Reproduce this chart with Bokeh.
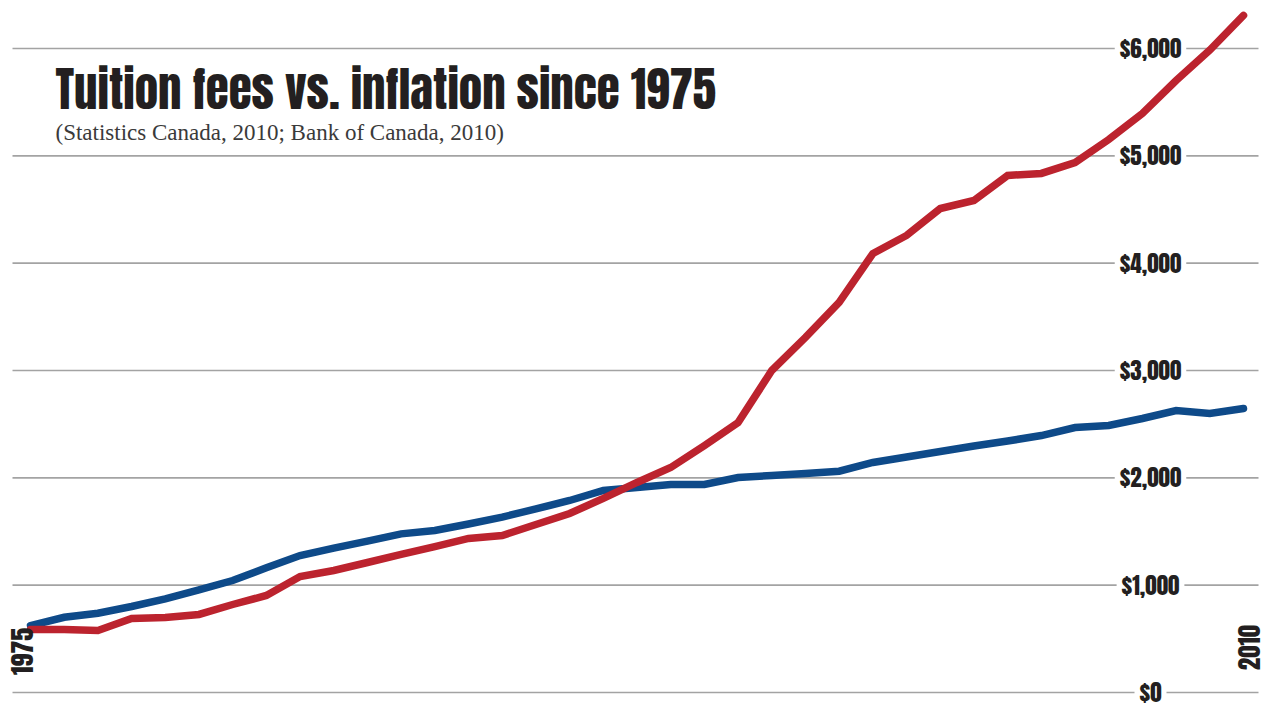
import math
from bokeh.plotting import figure
from bokeh.models import Label, Range1d
from bokeh.core.properties import value
from bokeh.embed import file_html
from bokeh.resources import INLINE

# ---- data ----
period_index = list(range(37))
tuition = [587, 587, 578, 690, 699, 727, 820, 904, 1081, 1137, 1211, 1286,
           1360, 1435, 1463, 1565, 1668, 1808, 1957, 2096, 2301, 2515, 3000,
           3308, 3634, 4090, 4258, 4509, 4584, 4817, 4836, 4938, 5152, 5395,
           5702, 5986, 6308]
inflation = [624, 701, 739, 801, 873, 957, 1043, 1162, 1276, 1345, 1410, 1478,
             1509, 1570, 1634, 1710, 1789, 1882, 1910, 1938, 1938, 2003, 2022,
             2040, 2062, 2143, 2194, 2245, 2297, 2343, 2394, 2469, 2488, 2553,
             2627, 2599, 2646]
y_ticks = [0, 1000, 2000, 3000, 4000, 5000, 6000]
y_tick_labels = ["$0", "$1,000", "$2,000", "$3,000", "$4,000", "$5,000", "$6,000"]
x_tick_labels = ["1975", "2010"]

W, H = 1262, 705
px_per_x = (1243 - 30) / 36.0
px_per_y = (692 - 48) / 6000.0

p = figure(width=W, height=H, output_backend="svg", toolbar_location=None,
           min_border=0)
p.x_range = Range1d(-30 / px_per_x, 36 + (W - 1243) / px_per_x)
p.y_range = Range1d(-(H - 692) / px_per_y, 692 / px_per_y)
p.axis.visible = False
p.grid.visible = False
p.outline_line_color = None
p.background_fill_color = "white"
p.border_fill_color = "white"

BOLD = "Anton"
INK = "#231f20"

x0 = (12 - 30) / px_per_x
x1 = (1258 - 30) / px_per_x
p.segment(x0=[x0] * len(y_ticks), x1=[x1] * len(y_ticks), y0=y_ticks, y1=y_ticks,
          line_color="#a3a3a3", line_width=1.6)

lab_x = (1150 - 30) / px_per_x
p.text(x=[lab_x] * len(y_ticks), y=y_ticks, text=y_tick_labels,
       text_font=value(BOLD), text_font_size="23px",
       text_color=INK, text_align="center", text_baseline="middle",
       background_fill_color="white", padding=(5, 0))

p.line(period_index, inflation, line_color="#0E4A89", line_width=7.5,
       line_join="miter", line_cap="round")
p.line(period_index, tuition, line_color="#BC232E", line_width=7.5,
       line_join="miter", line_cap="round")

p.add_layout(Label(x=21, y=H - 651, x_units="screen", y_units="screen",
                   text=x_tick_labels[0], angle=math.pi / 2, text_align="center",
                   text_baseline="middle", text_font=BOLD,
                   text_font_size="26px", text_color=INK))
p.add_layout(Label(x=1248, y=H - 647, x_units="screen", y_units="screen",
                   text=x_tick_labels[1], angle=math.pi / 2, text_align="center",
                   text_baseline="middle", text_font=BOLD,
                   text_font_size="25px", text_color=INK))

p.add_layout(Label(x=55, y=H - 88, x_units="screen", y_units="screen",
                   text="Tuition fees vs. inflation since 1975", text_font=BOLD,
                   text_font_size="47px", text_color=INK, text_baseline="alphabetic"))
p.add_layout(Label(x=55, y=H - 144, x_units="screen", y_units="screen",
                   text="(Statistics Canada, 2010; Bank of Canada, 2010)",
                   text_font="Liberation Serif", text_font_size="23px",
                   text_color="#3a3a3a"))

open("out.html", "w").write(file_html(p, INLINE))
